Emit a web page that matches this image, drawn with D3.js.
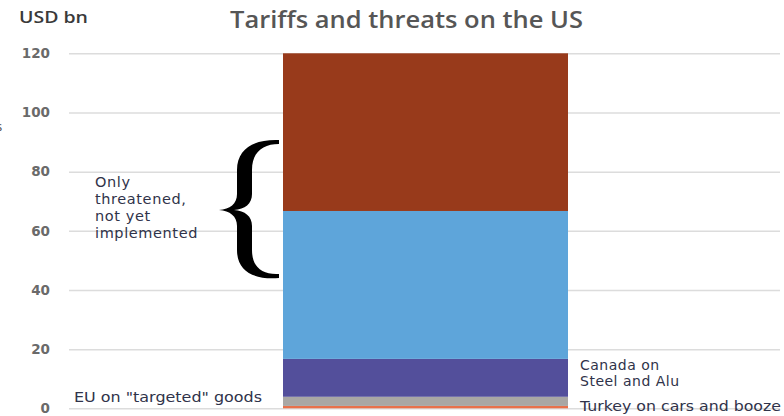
<!DOCTYPE html>
<html><head><meta charset="utf-8">
<script src="https://cdn.jsdelivr.net/npm/d3@7"></script>
<style>
html,body{margin:0;padding:0;background:#fff;}
svg{display:block;}
</style></head>
<body>
<script>
// ---- data ----
const categories = ["US"];
const seriesKeys = ["Turkey", "EU", "Canada", "China", "Other"];
const seriesValues = [0.8, 3.1, 12.8, 50.0, 53.3];
const seriesColors = ["#e8714b", "#a9a7a4", "#534f9b", "#5ea5da", "#983a1b"];
const tickValues = [0, 20, 40, 60, 80, 100, 120];
const title = "Tariffs and threats on the US";
const unitLabel = "USD bn";
const threatLines = ["Only", "threatened,", "not yet", "implemented"];
const euLabel = "EU on \"targeted\" goods";
const canadaLines = ["Canada on", "Steel and Alu"];
const turkeyLabel = "Turkey on cars and booze";

const W = 784, H = 416;
const svg = d3.select("body").append("svg").attr("width", W).attr("height", H);
const font = "'Open Sans', sans-serif";
const annFont = "'DejaVu Sans', sans-serif";

const y = d3.scaleLinear().domain([0, 120]).range([408.3, 53.3]);
const x = d3.scaleBand().domain(categories).range([283, 568]).padding(0);
const gridX0 = 69, gridX1 = 780;

// gridlines + tick labels
const yAxis = d3.axisLeft(y).tickValues(tickValues).tickSize(-(gridX1 - gridX0)).tickPadding(19).tickFormat(d3.format("d"));
const ga = svg.append("g").attr("transform", `translate(${gridX0},0)`).call(yAxis);
ga.select(".domain").remove();
ga.selectAll(".tick line").attr("stroke", "#dcdcdc").attr("stroke-width", 1.5);
ga.selectAll(".tick text").attr("fill", "#6a6a6a").attr("font-family", "'DejaVu Sans', sans-serif")
  .attr("font-size", 13.5).attr("font-weight", "bold");

// stacked bar
const row = {cat: categories[0]};
seriesKeys.forEach((k, i) => row[k] = seriesValues[i]);
const stacked = d3.stack().keys(seriesKeys)([row]);
svg.append("g").selectAll("rect").data(stacked).join("rect")
  .attr("x", d => x(d[0].data.cat))
  .attr("width", x.bandwidth())
  .attr("y", d => y(d[0][1]))
  .attr("height", d => y(d[0][0]) - y(d[0][1]))
  .attr("fill", (d, i) => seriesColors[i]);

// title
svg.append("text").attr("x", 230).attr("y", 28)
  .attr("font-family", font).attr("font-size", 23).attr("font-weight", 600).attr("fill", "#565656")
  .attr("textLength", 353).attr("lengthAdjust", "spacingAndGlyphs").text(title);
svg.append("text").attr("x", 19).attr("y", 23)
  .attr("font-family", font).attr("font-size", 17).attr("font-weight", 600).attr("fill", "#3a3a3a")
  .attr("textLength", 69).attr("lengthAdjust", "spacingAndGlyphs").text(unitLabel);
// clipped artifact letter at left edge
svg.append("text").attr("x", -4).attr("y", 131)
  .attr("font-family", font).attr("font-size", 13).attr("fill", "#444").text("s");

// annotations
const annColor = "#30334a";
svg.append("text").attr("font-family", annFont).attr("font-size", 14.5).attr("letter-spacing", 0.6).attr("fill", annColor)
  .selectAll("tspan").data(threatLines).join("tspan")
  .attr("x", 95).attr("y", (d, i) => 187 + i * 17).text(d => d);
svg.append("text").attr("x", 74).attr("y", 402).attr("font-family", annFont).attr("font-size", 13.5)
  .attr("fill", annColor).attr("textLength", 188).attr("lengthAdjust", "spacingAndGlyphs").text(euLabel);
svg.append("text").attr("font-family", annFont).attr("font-size", 14).attr("letter-spacing", 0.5).attr("fill", annColor)
  .selectAll("tspan").data(canadaLines).join("tspan")
  .attr("x", 580).attr("y", (d, i) => 370 + i * 16).text(d => d);
svg.append("text").attr("x", 580).attr("y", 411).attr("font-family", annFont).attr("font-size", 13.5)
  .attr("fill", annColor).attr("textLength", 201).attr("lengthAdjust", "spacingAndGlyphs").text(turkeyLabel);

// curly brace
svg.append("path").attr("fill", "#000").attr("d",
  "M279,140 C255,139 237,148 237,170 L237,194 C237,204 230,209 219,210 " +
  "C230,211 237,216 237,226 L237,250 C237,272 255,280 279,278 " +
  "L279,274 C263,275 252,268 252,250 L252,226 C252,216 245,211 234,210 " +
  "C245,209 252,204 252,194 L252,170 C252,152 263,144 279,144 Z");
</script>
</body></html>
